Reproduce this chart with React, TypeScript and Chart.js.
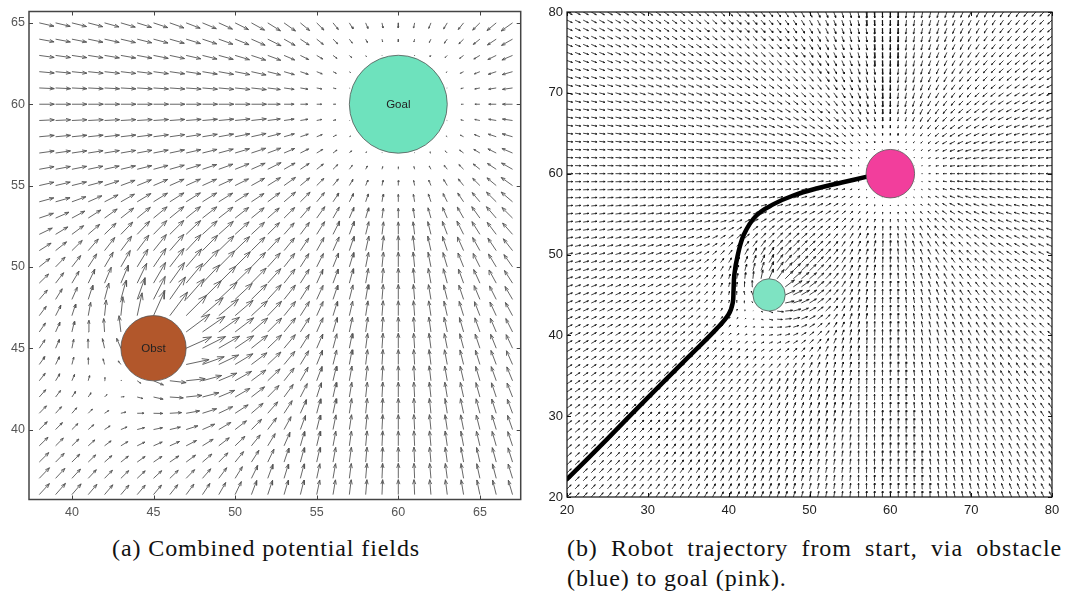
import React, { useEffect, useRef } from 'react';
import { Chart, registerables } from 'chart.js';
Chart.register(...registerables);

// ---------------- data ----------------
// grid positions of the quiver arrows
const GRID_A_X = [38, 39, 40, 41, 42, 43, 44, 45, 46, 47, 48, 49, 50, 51, 52, 53, 54, 55, 56, 57, 58, 59, 60, 61, 62, 63, 64, 65, 66, 67];
const GRID_A_Y = [36, 37, 38, 39, 40, 41, 42, 43, 44, 45, 46, 47, 48, 49, 50, 51, 52, 53, 54, 55, 56, 57, 58, 59, 60, 61, 62, 63, 64, 65];
const GRID_B_X = [20, 21, 22, 23, 24, 25, 26, 27, 28, 29, 30, 31, 32, 33, 34, 35, 36, 37, 38, 39, 40, 41, 42, 43, 44, 45, 46, 47, 48, 49, 50, 51, 52, 53, 54, 55, 56, 57, 58, 59, 60, 61, 62, 63, 64, 65, 66, 67, 68, 69, 70, 71, 72, 73, 74, 75, 76, 77, 78, 79, 80];
const GRID_B_Y = [20, 21, 22, 23, 24, 25, 26, 27, 28, 29, 30, 31, 32, 33, 34, 35, 36, 37, 38, 39, 40, 41, 42, 43, 44, 45, 46, 47, 48, 49, 50, 51, 52, 53, 54, 55, 56, 57, 58, 59, 60, 61, 62, 63, 64, 65, 66, 67, 68, 69, 70, 71, 72, 73, 74, 75, 76, 77, 78, 79, 80];

// tick labels
const TICKS_A_X = [40, 45, 50, 55, 60, 65];
const TICKS_A_Y = [40, 45, 50, 55, 60, 65];
const TICKS_B_X = [20, 30, 40, 50, 60, 70, 80];
const TICKS_B_Y = [20, 30, 40, 50, 60, 70, 80];

// goal & obstacle (same geometry in both panels)
const GOAL_XY = [60, 60];
const GOAL_R = 3;
const OBST_XY = [45, 45];
const OBST_R = 2;

// potential field parameters
const GOAL_SPREAD = 6;
const OBST_SPREAD = 8.8;
const OBST_GAIN = 0.117; // relative to the far-field attractive magnitude
const FAR_LEN_A = 0.92; // drawn length of saturated attraction (panel a)
const FAR_LEN_B = 0.72; // (panel b)

// robot trajectory (panel b)
const TRAJ_X = [20, 25, 30, 35, 38.5, 40.0, 40.5, 40.6, 40.7, 41.1, 41.9, 43.4, 45.5, 48, 51, 54, 57];
const TRAJ_Y = [22.2, 27.2, 32.3, 37.3, 40.8, 42.6, 44.0, 45.5, 47.5, 49.8, 52.5, 54.8, 56.2, 57.3, 58.2, 58.9, 59.6];

// circle labels (panel a)
const LABELS_A = ['Goal', 'Obst'];

// --------------------------------------
function fieldAt(x: number, y: number, far: number): [number, number] {
  let u = 0, v = 0;
  const gx = GOAL_XY[0] - x, gy = GOAL_XY[1] - y;
  const dg = Math.hypot(gx, gy);
  if (dg > GOAL_R) {
    const m = (far * Math.min(dg - GOAL_R, GOAL_SPREAD)) / GOAL_SPREAD;
    u += (m * gx) / dg;
    v += (m * gy) / dg;
  }
  const ox = x - OBST_XY[0], oy = y - OBST_XY[1];
  const dob = Math.hypot(ox, oy);
  if (dob < OBST_R + OBST_SPREAD && dob > 0) {
    const m = far * OBST_GAIN * (OBST_R + OBST_SPREAD - dob);
    u += (m * ox) / dob;
    v += (m * oy) / dob;
  }
  return [u, v];
}

function buildArrows(xs: number[], ys: number[], far: number) {
  const pts: any[] = [];
  for (const y of ys) {
    for (const x of xs) {
      if (Math.hypot(x - GOAL_XY[0], y - GOAL_XY[1]) < GOAL_R) continue;
      if (Math.hypot(x - OBST_XY[0], y - OBST_XY[1]) < OBST_R) continue;
      const [u, v] = fieldAt(x, y, far);
      if (Math.hypot(u, v) < 1e-6) continue;
      const tx = x + u, ty = y + v;
      const a = 0.3, b = 0.35;
      pts.push({ x, y }, { x: tx, y: ty }, { x: tx, y: null });
      pts.push(
        { x: tx - a * (u + b * v), y: ty - a * (v - b * u) },
        { x: tx, y: ty },
        { x: tx - a * (u - b * v), y: ty - a * (v + b * u) },
        { x: tx, y: null }
      );
    }
  }
  return pts;
}

function radiusPx(chart: any, r: number) {
  const s = chart.scales.x;
  return Math.abs(s.getPixelForValue(r) - s.getPixelForValue(0));
}

interface PanelCfg {
  width: number;
  height: number;
  padding: any;
  yWidth: number;
  xHeight: number;
  xMin: number; xMax: number; yMin: number; yMax: number;
  ticksX: number[]; ticksY: number[];
  gridX: number[]; gridY: number[]; far: number;
  arrowColor: string; arrowWidth: number;
  goalColor: string; obstColor: string;
  frameColor: string; frameWidth: number;
  tickColor: string; tickFont: number;
  labels?: string[];
  traj?: boolean;
}

function makeChart(canvas: HTMLCanvasElement, c: PanelCfg) {
  const datasets: any[] = [];
  datasets.push({
    type: 'scatter',
    data: [{ x: GOAL_XY[0], y: GOAL_XY[1] }],
    backgroundColor: c.goalColor,
    borderColor: '#555',
    borderWidth: 0.8,
    pointRadius: (ctx: any) => radiusPx(ctx.chart, GOAL_R),
    order: 1,
    clip: false,
  });
  datasets.push({
    type: 'scatter',
    data: [{ x: OBST_XY[0], y: OBST_XY[1] }],
    backgroundColor: c.obstColor,
    borderColor: '#555',
    borderWidth: 0.8,
    pointRadius: (ctx: any) => radiusPx(ctx.chart, OBST_R),
    order: 1,
    clip: false,
  });
  if (c.traj) {
    datasets.push({
      type: 'line',
      data: TRAJ_X.map((x, i) => ({ x, y: TRAJ_Y[i] })),
      borderColor: '#000',
      borderWidth: 4.5,
      pointRadius: 0,
      tension: 0.4,
      borderCapStyle: 'round',
      order: 2,
      clip: 0,
    });
  }
  datasets.push({
    type: 'line',
    data: buildArrows(c.gridX, c.gridY, c.far),
    borderColor: c.arrowColor,
    borderWidth: c.arrowWidth,
    pointRadius: 0,
    spanGaps: false,
    tension: 0,
    order: 3,
    clip: 0,
  });

  const framePlugin = {
    id: 'frame',
    afterDraw(chart: any) {
      const { ctx, chartArea: a } = chart;
      ctx.save();
      ctx.strokeStyle = c.frameColor;
      ctx.lineWidth = c.frameWidth;
      ctx.strokeRect(a.left, a.top, a.right - a.left, a.bottom - a.top);
      ctx.lineWidth = 1;
      const tl = 4;
      ctx.beginPath();
      for (const v of c.ticksX) {
        const px = Math.round(chart.scales.x.getPixelForValue(v)) + 0.5;
        ctx.moveTo(px, a.bottom); ctx.lineTo(px, a.bottom - tl);
        ctx.moveTo(px, a.top); ctx.lineTo(px, a.top + tl);
      }
      for (const v of c.ticksY) {
        const py = Math.round(chart.scales.y.getPixelForValue(v)) + 0.5;
        ctx.moveTo(a.left, py); ctx.lineTo(a.left + tl, py);
        ctx.moveTo(a.right, py); ctx.lineTo(a.right - tl, py);
      }
      ctx.stroke();
      if (c.labels) {
        ctx.fillStyle = '#222';
        ctx.font = '11.5px "Liberation Sans", Arial, sans-serif';
        ctx.textAlign = 'center';
        ctx.textBaseline = 'middle';
        const centers = [GOAL_XY, OBST_XY];
        c.labels.forEach((t, i) => {
          ctx.fillText(t, chart.scales.x.getPixelForValue(centers[i][0]), chart.scales.y.getPixelForValue(centers[i][1]) + 1);
        });
      }
      ctx.restore();
    },
  };

  const tickOpts = {
    font: { family: '"Liberation Sans", Arial, sans-serif', size: c.tickFont },
    color: c.tickColor,
    maxRotation: 0,
    autoSkip: false,
  };

  return new Chart(canvas, {
    type: 'line',
    data: { datasets },
    options: {
      animation: false,
      responsive: false,
      maintainAspectRatio: false,
      events: [],
      layout: { padding: c.padding },
      plugins: { legend: { display: false }, tooltip: { enabled: false } },
      scales: {
        x: {
          type: 'linear',
          min: c.xMin,
          max: c.xMax,
          grid: { display: false, drawTicks: false },
          border: { display: false },
          ticks: { ...tickOpts, padding: 6 },
          afterBuildTicks: (s: any) => { s.ticks = c.ticksX.map((v) => ({ value: v })); },
          afterFit: (s: any) => { s.height = c.xHeight; },
        },
        y: {
          type: 'linear',
          min: c.yMin,
          max: c.yMax,
          grid: { display: false, drawTicks: false },
          border: { display: false },
          ticks: { ...tickOpts, padding: 4 },
          afterBuildTicks: (s: any) => { s.ticks = c.ticksY.map((v) => ({ value: v })); },
          afterFit: (s: any) => { s.width = c.yWidth; },
        },
      },
    } as any,
    plugins: [framePlugin],
  });
}

function Panel({ cfg, left }: { cfg: PanelCfg; left: number }) {
  const ref = useRef<HTMLCanvasElement>(null);
  useEffect(() => {
    const ch = makeChart(ref.current!, cfg);
    return () => ch.destroy();
  }, []);
  return (
    <div style={{ position: 'absolute', left, top: 0, width: cfg.width, height: cfg.height }}>
      <canvas ref={ref} width={cfg.width} height={cfg.height} />
    </div>
  );
}

const CFG_A: PanelCfg = {
  width: 530, height: 522,
  padding: { top: 10, right: 9.3, left: 0, bottom: 0 },
  yWidth: 29, xHeight: 22.5,
  xMin: 37.37, xMax: 67.5, yMin: 35.7, yMax: 65.7,
  ticksX: TICKS_A_X, ticksY: TICKS_A_Y,
  gridX: GRID_A_X, gridY: GRID_A_Y, far: FAR_LEN_A,
  arrowColor: '#555', arrowWidth: 0.9,
  goalColor: '#6ee2bd', obstColor: '#b2572b',
  frameColor: '#444', frameWidth: 1.5,
  tickColor: '#555', tickFont: 12.5,
  labels: LABELS_A,
};

const CFG_B: PanelCfg = {
  width: 540, height: 522,
  padding: { top: 12, right: 18, left: 0, bottom: 0 },
  yWidth: 37, xHeight: 25,
  xMin: 20, xMax: 80, yMin: 20, yMax: 80,
  ticksX: TICKS_B_X, ticksY: TICKS_B_Y,
  gridX: GRID_B_X, gridY: GRID_B_Y, far: FAR_LEN_B,
  arrowColor: '#111', arrowWidth: 0.8,
  goalColor: '#f23e9c', obstColor: '#7ee3c2',
  frameColor: '#111', frameWidth: 1.2,
  tickColor: '#222', tickFont: 13,
  traj: true,
};

export default function App() {
  const capStyle: any = {
    position: 'absolute',
    fontFamily: '"Liberation Serif", "Times New Roman", serif',
    fontSize: 24,
    lineHeight: '30px',
    color: '#111',
    letterSpacing: '0.9px',
  };
  return (
    <div style={{ position: 'absolute', left: 0, top: 0, width: 1070, height: 601, background: '#fff', overflow: 'hidden' }}>
      <Panel cfg={CFG_A} left={0} />
      <Panel cfg={CFG_B} left={530} />
      <div style={{ ...capStyle, left: 112, top: 533, whiteSpace: 'nowrap' }}>(a) Combined potential fields</div>
      <div style={{ ...capStyle, left: 567, top: 533, width: 495, textAlign: 'justify' }}>
        (b) Robot trajectory from start, via obstacle (blue) to goal (pink).
      </div>
    </div>
  );
}
